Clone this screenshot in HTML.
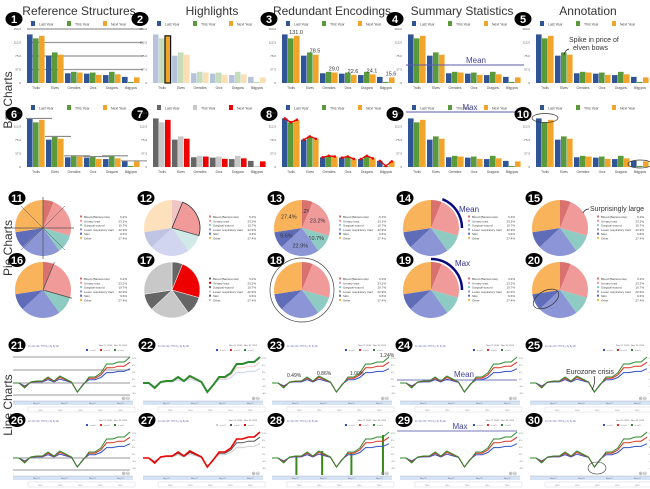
<!DOCTYPE html>
<html><head><meta charset="utf-8"><style>
html,body{margin:0;padding:0;background:#fff;width:650px;height:489px;overflow:hidden}
svg{display:block;font-family:"Liberation Sans",sans-serif}
</style></head><body>
<svg id="s" width="650" height="489" viewBox="0 0 650 489" xmlns="http://www.w3.org/2000/svg"></svg>
<script>
var S=document.getElementById('s'),h='';
function t(x,y,s,sz,fill,anchor,extra){h+='<text x="'+x+'" y="'+y+'" font-size="'+sz+'" fill="'+(fill||'#333')+'" text-anchor="'+(anchor||'start')+'" '+(extra||'')+'>'+s+'</text>';}
function r(x,y,w,hh,f,extra){h+='<rect x="'+x+'" y="'+y+'" width="'+w+'" height="'+hh+'" fill="'+f+'" '+(extra||'')+'/>';}
function l(x1,y1,x2,y2,c,w,extra){h+='<line x1="'+x1+'" y1="'+y1+'" x2="'+x2+'" y2="'+y2+'" stroke="'+c+'" stroke-width="'+w+'" '+(extra||'')+'/>';}
function badge(x,y,n){h+='<ellipse cx="'+x+'" cy="'+y+'" rx="8.5" ry="7" fill="#000"/>';t(x,y+4,n,11,'#fff','middle','font-weight="bold"');}
// headers
[['Reference Structures',79],['Highlights',212],['Redundant Encodings',332],['Summary Statistics',462],['Annotation',588]].forEach(function(a){t(a[1],15,a[0],12,'#333','middle');});
t(0,0,'Bar Charts',12,'#333','middle','transform="translate(12,100) rotate(-90)"');
t(0,0,'Pie Charts',12,'#333','middle','transform="translate(12,248) rotate(-90)"');
t(0,0,'Line Charts',12,'#333','middle','transform="translate(12,405) rotate(-90)"');
// BAR DATA
var V=[[135,124,131],[76,85,78.5],[27,31,29],[26,29,22.6],[22,31,24.1],[17,3,15.6]];
var cats=['Trolls','Elves','Grendles','Orcs','Dragons','Bilgypos'];
var BX=[27,153,282,408,536],BC=['#2f5597','#5b9a3c','#f0a42c'];
function bars(ci,row,n){
 var x0=BX[ci],top=row?113:29,bot=top+54,by=row?113:18,ly=row?108:24;
 var cols=BC.slice(),alpha=[1,1,1];
 if(n==7)cols=['#666','#c8c8c8','#e00'];
 badge(x0-13,by+1,n);
 var lx=[x0+4,x0+40,x0+76],nm=['Last Year','This Year','Next Year'];
 for(var i=0;i<3;i++){r(lx[i],ly-3,4,5,cols[i]);t(lx[i]+8,ly+1.5,nm[i],3.5,'#444');}
 var ticks=['150.0','112.5','75.0','37.5','0'];
 for(i=0;i<5;i++)t(x0-6,top+1+i*13.5,ticks[i],3,'#555','end');
 if(n==1)for(i=0;i<4;i++)l(x0,top+i*13.5,x0+116,top+i*13.5,'#999',1.2);
 var pts=[];
 for(var g=0;g<6;g++){var gx=x0+g*19;
  for(var k=0;k<3;k++){var v=V[g][k],hh=v/150*54,c=cols[k],op=1,ex='';
   if(n==2){op=(g==0&&k==2)?1:0.35;if(g==0&&k==2)ex='stroke="#111" stroke-width="1.2"';}
   r(gx+k*6,bot-hh,5.6,hh,c,'opacity="'+op+'" '+ex);
   pts.push([gx+k*6+2.8,bot-hh]);}
  t(gx+9,bot+6,cats[g],3.2,'#444','middle');
  if(n==6)l(gx-1,bot-Math.max.apply(0,V[g])/150*54,gx+25,bot-Math.max.apply(0,V[g])/150*54,'#888',1.1);
  if(n==3)t(gx+14,bot-V[g][2]/150*54-2,V[g][2].toFixed(1),5.5,'#333','middle');
 }
 if(n==8){for(g=0;g<6;g++){var p=pts.slice(g*3,g*3+3);h+='<polyline points="'+p.map(function(q){return q.join(',')}).join(' ')+'" fill="none" stroke="#e00" stroke-width="1.3"/>';p.forEach(function(q){h+='<circle cx="'+q[0]+'" cy="'+q[1]+'" r="1.3" fill="#e00"/>';});}}
 if(n==4){var my=bot-50/150*54;l(x0-2,my,x0+116,my,'#5a5aaa',1);t(x0+68,my-2,'Mean',8,'#44449a','middle');}
 if(n==9){l(x0-2,top-1,x0+116,top-1,'#5a5aaa',1);t(x0+62,top-3,'Max',8,'#44449a','middle');}
 if(n==5){t(x0+33,top+13,'Spike in price of',7,'#333');t(x0+37,top+21,'elven bows',7,'#333');h+='<path d="M'+(x0+33)+','+(top+20)+' q-4,1 -5,6" fill="none" stroke="#222" stroke-width="0.8"/>';}
 if(n==10){h+='<ellipse cx="'+(x0+9)+'" cy="'+(top+5)+'" rx="13" ry="4.5" fill="none" stroke="#333" stroke-width="0.7"/><ellipse cx="'+(x0+104)+'" cy="'+(bot-3)+'" rx="12" ry="4" fill="none" stroke="#333" stroke-width="0.7"/>';}
}
bars(0,0,1);bars(1,0,2);bars(2,0,3);bars(3,0,4);bars(4,0,5);
bars(0,1,6);bars(1,1,7);bars(2,1,8);bars(3,1,9);bars(4,1,10);
// PIES
var P=[6.2,23.2,10.7,22.9,9.6,27.4],PC=['#d9716e','#f09a9a','#8ecbc3','#8c96d6','#5f6cb8','#f9b35a'];
var PN=['Blood (Bacteremia)','Urinary tract','Surgical wound','Lower respiratory tract','Skin','Other'];
var PX=[43,172,302,431,560];
function pt(cx,cy,rr,f){var a=f*2*Math.PI;return [cx+rr*Math.sin(a),cy-rr*Math.cos(a)];}
function arc(cx,cy,rr,f0,f1){var a=pt(cx,cy,rr,f0),b=pt(cx,cy,rr,f1);return 'M'+a[0].toFixed(2)+','+a[1].toFixed(2)+' A'+rr+','+rr+' 0 '+((f1-f0)>0.5?1:0)+' 1 '+b[0].toFixed(2)+','+b[1].toFixed(2);}
function pie(ci,row,n){
 var cx=PX[ci],cy=row?290:228,R=28,cols=PC.slice();
 if(n==17)cols=['#666','#e00','#666','#c8c8c8','#666','#c8c8c8'];
 badge(cx-26,cy-30,n);
 var f=0;
 for(var i=0;i<6;i++){var f1=f+P[i]/100,op=(n==12&&i!=1)?0.4:1,ex=(n==12&&i==1)?'stroke="#333" stroke-width="0.8"':'';
  if(n==17)ex='stroke="#fff" stroke-width="0.5"';
  h+='<path d="M'+cx+','+cy+' L'+arc(cx,cy,R,f,f1).slice(1)+' Z" fill="'+cols[i]+'" opacity="'+op+'" '+ex+'/>';
  if(n==13){var m=pt(cx,cy,R*0.62,(f+f1)/2);t(m[0],m[1]+2,P[i].toFixed(1)+'%',5.5,'#333','middle');}
  f=f1;}
 if(n==11){for(var k=0;k<8;k++){var a=pt(cx,cy,R+3,k/8),b=pt(cx,cy,R+3,k/8+0.5);l(a[0],a[1],b[0],b[1],'#555',0.5);}}
 if(n==16){var a=pt(cx,cy,R+2,0.062),b=pt(cx,cy,R+2,0.294);l(cx,cy,a[0],a[1],'#555',0.8);l(cx,cy,b[0],b[1],'#555',0.8);}
 var lx=cx+37;
 for(i=0;i<6;i++){var yy=cy-11+i*4.3;r(lx,yy-1.5,2,2,cols[i]);t(lx+4,yy+1,PN[i],3,'#444');t(lx+47,yy+1,P[i].toFixed(1)+'%',3,'#444','end');}
 if(n==14){h+='<path d="'+arc(cx,cy,R+3,0.06,0.25)+'" fill="none" stroke="#0a0a80" stroke-width="2.5"/>';t(cx+28,cy-16,'Mean',8,'#33339a');}
 if(n==19){h+='<path d="'+arc(cx,cy,R+3,0.0,0.25)+'" fill="none" stroke="#0a0a80" stroke-width="2.5"/>';t(cx+24,cy-24,'Max',8,'#33339a');}
 if(n==15){t(cx+30,cy-17,'Surprisingly large',7,'#333');h+='<path d="M'+(cx+29)+','+(cy-19)+' q-4,0 -6,4" fill="none" stroke="#222" stroke-width="0.7"/>';}
 if(n==18)h+='<circle cx="'+cx+'" cy="'+cy+'" r="'+(R+4)+'" fill="none" stroke="#444" stroke-width="0.7"/>';
 if(n==20)h+='<ellipse cx="'+(cx-14)+'" cy="'+(cy+9)+'" rx="14" ry="8" transform="rotate(-30 '+(cx-14)+' '+(cy+9)+')" fill="none" stroke="#333" stroke-width="0.7"/>';
}
pie(0,0,11);pie(1,0,12);pie(2,0,13);pie(3,0,14);pie(4,0,15);
pie(0,1,16);pie(1,1,17);pie(2,1,18);pie(3,1,19);pie(4,1,20);
// LINES
var G=[383,383,388,382,381,381,377,381,376,379,382,392,385,377,377,373,364,364,362,362,357];
var LX=[13,143,272,400,530];
function ser(k){return G.map(function(g,i){if(i==11)return g+(k==2?0:0);return g<383?383+(g-383)*k:(g>383&&i!=11?383+(g-383)*(k==1?1:(k>0.7?0.8:0.6)):g);});}
function line(ci,row,n){
 var x0=LX[ci],dy=row?75:0,w=117;
 badge(x0+4,345+dy,n);
 t(x0+15,347+dy,'1m 3m 6m YTD 1y 3y 5y All',2.5,'#66a');
 t(x0+w-3,346+dy,'Nov 21, 2010 - Nov 19, 2013',2.2,'#555','end');
 var sc=[[ser(0.55),'#3050c8'],[ser(0.8),'#e03020'],[ser(1),'#2d8a2d']];
 var lgc=['#3050c8','#e03020','#2d8a2d'];
 if(n==27)lgc=['#ccc','#555','#e00'];
 for(var i=0;i<3;i++){r(x0+w-44+i*14,349+dy,2,2,lgc[i]);t(x0+w-40+i*14,351+dy,'x.xx%',2.2,'#777');}
 if(n==21||n==26){var ys=n==21?[357,370,383,395]:[383,395];ys.forEach(function(y){l(x0,y+dy,x0+w,y+dy,'#999',1);});}
 if(n==24)l(x0-3,380+dy,x0+w,380+dy,'#7777bb',1);
 if(n==29)l(x0-3,356+dy,x0+w,356+dy,'#7777bb',1);
 if(n==28){[6,28,52,77].forEach(function(ii){var xx=x0+(G.length>1?ii/20*w:0)/1;});[[0.2,381],[0.42,376],[0.67,378],[0.94,360]].forEach(function(p){r(x0+p[0]*w,p[1]+dy,2,400-p[1],'#3a8a1a');});}
 for(i=0;i<3;i++){var d=sc[i][0],c=sc[i][1],sw=1,op=1;
  if(n==22){if(i<2){op=0.25;}else sw=2;}
  if(n==27){c=['#ccc','#555','#e00'][i];if(i==2)sw=1.6;}
  h+='<polyline points="'+d.map(function(y,j){return (x0+j*w/20).toFixed(1)+','+(y+dy).toFixed(1)}).join(' ')+'" fill="none" stroke="'+c+'" stroke-width="'+sw+'" opacity="'+op+'"/>';}
 for(i=0;i<6;i++)t(x0+w+2,359+i*7+dy,['12%','8%','4%','0%','-4%','-8%'][i],2.2,'#777');
 r(x0,401+dy,w+3,4,'#d6e3f5');l(x0,401+dy,x0+w+3,401+dy,'#9ab',0.4);
 for(i=0;i<4;i++)t(x0+20+i*28,404+dy,'May 12',2,'#667');
 r(x0+15,407+dy,w-10,5,'#fff','stroke="#ccd" stroke-width="0.4"');
 for(i=0;i<5;i++)t(x0+25+i*20,411+dy,'2010',2,'#888');
 t(x0+w,400+dy,'⊕⊖',5,'#888','end');
 if(n==23){t(x0+15,377,'0.49%',5,'#333');t(x0+45,375,'0.86%',5,'#333');t(x0+78,375,'1.00%',5,'#333');t(x0+108,357,'1.24%',5,'#333');}
 if(n==24)t(x0+64,377+dy,'Mean',8,'#44449a','middle');
 if(n==29)t(x0+60,354+dy,'Max',8,'#44449a','middle');
 if(n==25){t(x0+60,374,'Eurozone crisis',7,'#333','middle');h+='<path d="M'+(x0+64)+','+376+' q2,6 -2,14" fill="none" stroke="#222" stroke-width="0.7"/>';}
 if(n==30)h+='<ellipse cx="'+(x0+67)+'" cy="'+(393+dy)+'" rx="9" ry="6" fill="none" stroke="#333" stroke-width="0.6"/>';
}
line(0,0,21);line(1,0,22);line(2,0,23);line(3,0,24);line(4,0,25);
line(0,1,26);line(1,1,27);line(2,1,28);line(3,1,29);line(4,1,30);
S.innerHTML=h;
</script>
</body></html>
